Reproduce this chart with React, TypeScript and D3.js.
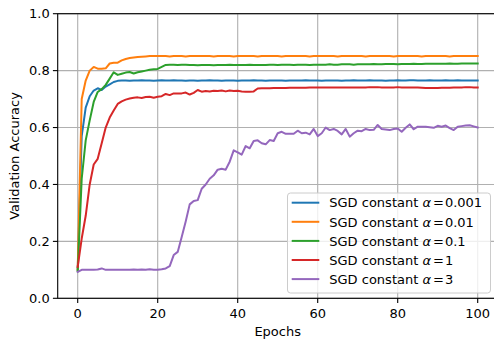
import React from "react";
import * as d3 from "d3";

const epochs: number[] = Array.from({ length: 101 }, (_, i) => i);

const blue = [0.10,0.57,0.67,0.71,0.73,0.738,0.732,0.744,0.752,0.76,0.764,
0.765,0.765,0.764,0.765,0.765,0.766,0.765,0.765,0.764,0.765,
0.766,0.765,0.765,0.766,0.765,0.765,0.764,0.765,0.765,0.764,
0.765,0.765,0.766,0.765,0.765,0.764,0.765,0.765,0.765,0.764,
0.765,0.765,0.765,0.766,0.765,0.765,0.764,0.765,0.765,0.765,
0.765,0.764,0.765,0.765,0.765,0.765,0.766,0.765,0.765,0.765,
0.764,0.765,0.765,0.765,0.765,0.764,0.765,0.765,0.766,0.765,
0.765,0.765,0.766,0.765,0.765,0.765,0.764,0.765,0.765,0.766,
0.765,0.765,0.766,0.766,0.765,0.765,0.765,0.766,0.765,0.765,
0.765,0.766,0.765,0.765,0.766,0.765,0.765,0.765,0.765,0.765];

const orange = [0.10,0.70,0.765,0.80,0.813,0.807,0.807,0.808,0.825,0.828,0.828,
0.836,0.841,0.844,0.846,0.848,0.849,0.850,0.851,0.851,0.851,
0.851,0.851,0.850,0.851,0.851,0.851,0.850,0.851,0.851,0.851,
0.851,0.851,0.851,0.850,0.851,0.851,0.851,0.851,0.850,0.851,
0.851,0.851,0.851,0.851,0.850,0.851,0.851,0.851,0.851,0.851,
0.850,0.851,0.851,0.851,0.851,0.851,0.851,0.850,0.851,0.851,
0.851,0.851,0.851,0.851,0.850,0.851,0.851,0.851,0.851,0.851,
0.851,0.850,0.851,0.851,0.851,0.851,0.851,0.851,0.850,0.851,
0.851,0.851,0.851,0.851,0.851,0.850,0.851,0.851,0.851,0.851,
0.851,0.851,0.850,0.851,0.851,0.851,0.851,0.851,0.851,0.851];

const green = [0.095,0.42,0.555,0.625,0.69,0.725,0.735,0.75,0.772,0.794,0.785,
0.789,0.793,0.795,0.79,0.794,0.797,0.80,0.803,0.805,0.806,
0.813,0.82,0.821,0.821,0.820,0.821,0.821,0.820,0.820,0.819,
0.820,0.820,0.820,0.819,0.820,0.820,0.820,0.821,0.820,0.820,
0.820,0.820,0.821,0.820,0.820,0.820,0.820,0.821,0.821,0.820,
0.821,0.821,0.821,0.820,0.821,0.821,0.821,0.820,0.821,0.821,
0.821,0.821,0.822,0.821,0.821,0.822,0.822,0.822,0.821,0.822,
0.822,0.822,0.822,0.823,0.822,0.822,0.823,0.823,0.823,0.822,
0.823,0.823,0.823,0.824,0.823,0.823,0.824,0.824,0.824,0.824,
0.824,0.824,0.825,0.824,0.824,0.825,0.825,0.825,0.825,0.825];

const red = [0.11,0.21,0.29,0.40,0.47,0.49,0.545,0.60,0.635,0.66,0.683,
0.692,0.698,0.702,0.705,0.706,0.704,0.707,0.708,0.705,0.708,
0.71,0.718,0.714,0.72,0.72,0.72,0.723,0.716,0.722,0.732,
0.726,0.728,0.727,0.729,0.728,0.73,0.727,0.73,0.728,0.729,
0.727,0.726,0.726,0.727,0.737,0.738,0.738,0.738,0.739,0.739,
0.739,0.739,0.740,0.740,0.740,0.740,0.740,0.741,0.741,0.741,
0.741,0.741,0.741,0.741,0.741,0.741,0.741,0.741,0.741,0.741,
0.741,0.741,0.742,0.742,0.742,0.741,0.741,0.741,0.741,0.742,
0.741,0.741,0.741,0.741,0.741,0.740,0.739,0.739,0.739,0.739,
0.740,0.740,0.740,0.741,0.741,0.741,0.742,0.742,0.741,0.741];

const purple = [0.093,0.10,0.10,0.10,0.10,0.101,0.105,0.10,0.10,0.10,0.10,
0.10,0.10,0.10,0.101,0.10,0.101,0.10,0.102,0.10,0.10,
0.102,0.105,0.113,0.152,0.163,0.215,0.27,0.33,0.342,0.345,
0.385,0.40,0.42,0.432,0.452,0.455,0.452,0.48,0.52,0.513,
0.505,0.535,0.527,0.553,0.555,0.545,0.541,0.556,0.553,0.58,
0.585,0.578,0.578,0.578,0.589,0.58,0.582,0.576,0.595,0.570,
0.58,0.60,0.591,0.595,0.588,0.576,0.595,0.568,0.58,0.589,
0.587,0.595,0.591,0.592,0.609,0.595,0.593,0.591,0.595,0.597,
0.585,0.599,0.611,0.594,0.603,0.603,0.603,0.601,0.599,0.606,
0.603,0.607,0.598,0.591,0.603,0.605,0.607,0.608,0.604,0.600];

const seriesLabels = ["0.001", "0.01", "0.1", "1", "3"];
const seriesValues = [blue, orange, green, red, purple];
const colors = ["#1f77b4", "#ff7f0e", "#2ca02c", "#d62728", "#9467bd"];
const xTicks = [0, 20, 40, 60, 80, 100];
const yTicks = [0, 0.2, 0.4, 0.6, 0.8, 1.0];

const W = 494, H = 343;
const FONT = "'DejaVu Sans', sans-serif";
const FS = 13;

export default function App() {
  const x = d3.scaleLinear().domain([-5, 105]).range([57.7, 497.7]);
  const y = d3.scaleLinear().domain([0, 1]).range([298.3, 13.7]);
  const line = d3.line<number>().x((_, i) => x(epochs[i])).y((d) => y(d));
  const x0 = x(-5), x1 = x(105), y0 = y(0), y1 = y(1);

  const legX = 287.5, legY = 193, legW = 203, legH = 100;
  const rowH = 19.1;
  return (
    <svg width={W} height={H} style={{ position: "absolute", left: 0, top: 0, background: "#fff" }}
      fontFamily={FONT}>
      <rect x={0} y={0} width={W} height={H} fill="#fff" />
      {xTicks.map((t) => (
        <line key={"gx" + t} x1={x(t)} x2={x(t)} y1={y0} y2={y1} stroke="#b0b0b0" strokeWidth={1.1} />
      ))}
      {yTicks.map((t) => (
        <line key={"gy" + t} x1={x0} x2={x1} y1={y(t)} y2={y(t)} stroke="#b0b0b0" strokeWidth={1.1} />
      ))}
      {seriesValues.map((s, k) => (
        <path key={"s" + k} d={line(s) || ""} fill="none" stroke={colors[k]} strokeWidth={2}
          strokeLinejoin="round" strokeLinecap="square" />
      ))}
      <rect x={x0} y={y1} width={x1 - x0} height={y0 - y1} fill="none" stroke="#000" strokeWidth={1.1} />
      {xTicks.map((t) => (
        <g key={"tx" + t}>
          <line x1={x(t)} x2={x(t)} y1={y0} y2={y0 + 4.8} stroke="#000" strokeWidth={1.1} />
          <text x={x(t)} y={y0 + 19.5} textAnchor="middle" fontSize={FS} fill="#000">{t}</text>
        </g>
      ))}
      {yTicks.map((t) => (
        <g key={"ty" + t}>
          <line x1={x0 - 4.8} x2={x0} y1={y(t)} y2={y(t)} stroke="#000" strokeWidth={1.1} />
          <text x={x0 - 8} y={y(t) + 4.7} textAnchor="end" fontSize={FS} fill="#000">{t.toFixed(1)}</text>
        </g>
      ))}
      <text x={(x0 + x1) / 2} y={336} textAnchor="middle" fontSize={FS} fill="#000">Epochs</text>
      <text transform={`translate(19,${(y0 + y1) / 2}) rotate(-90)`} textAnchor="middle" fontSize={FS} fill="#000">
        Validation Accuracy
      </text>
      <rect x={legX} y={legY} width={legW} height={legH} rx={3} fill="#fff" fillOpacity={0.8}
        stroke="#cccccc" strokeWidth={1} />
      {seriesLabels.map((lab, k) => {
        const cy = legY + 9.7 + k * rowH;
        return (
          <g key={"l" + k}>
            <line x1={291.7} x2={319.3} y1={cy} y2={cy} stroke={colors[k]} strokeWidth={2} />
            <text x={329.3} y={cy + 4.7} fontSize={FS} fill="#000">
              SGD constant <tspan fontStyle="italic">α</tspan>
              <tspan dx={2}>=</tspan>
              <tspan dx={1}>{lab}</tspan>
            </text>
          </g>
        );
      })}
    </svg>
  );
}
